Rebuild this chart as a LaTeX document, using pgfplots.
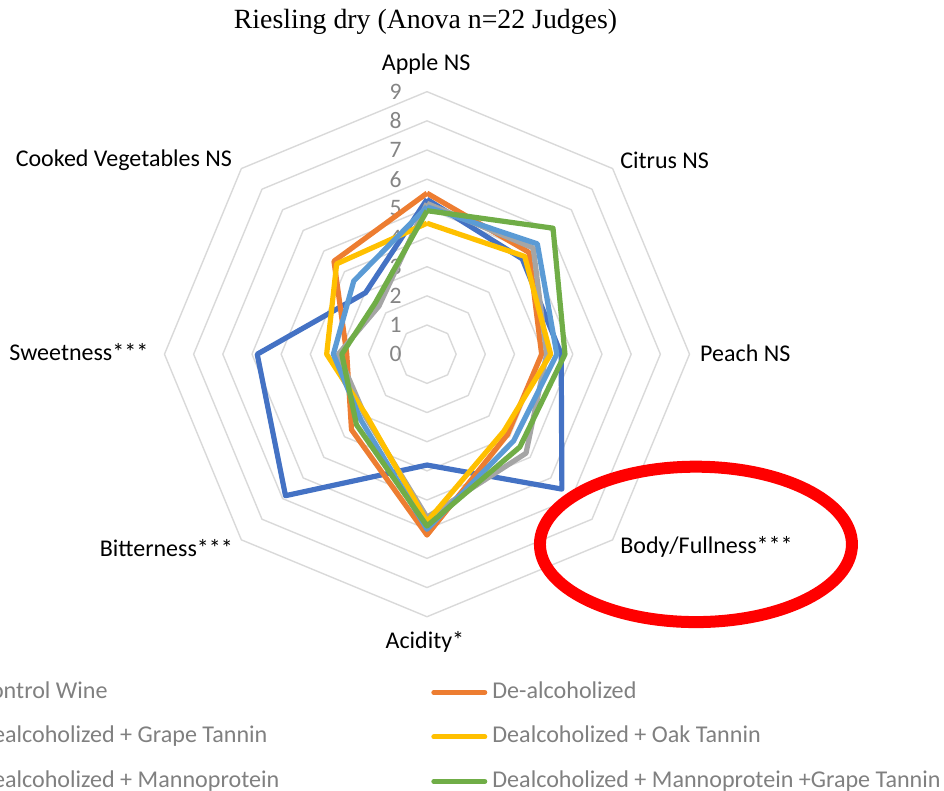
\documentclass[border=0pt]{standalone}
\usepackage{fontspec}
\setmainfont{Carlito}
\newfontfamily\titlefont{Liberation Serif}
\usepackage{pgfplots}
\pgfplotsset{compat=1.18}
\definecolor{cCtrl}{HTML}{4472C4}
\definecolor{cDeal}{HTML}{ED7D31}
\definecolor{cGrape}{HTML}{A5A5A5}
\definecolor{cOak}{HTML}{FFC000}
\definecolor{cManno}{HTML}{5B9BD5}
\definecolor{cMG}{HTML}{70AD47}
\definecolor{gridc}{HTML}{D9D9D9}
\definecolor{tickc}{HTML}{858585}
\definecolor{legc}{HTML}{808080}
\begin{document}
\begin{tikzpicture}
\useasboundingbox (0,0) rectangle (944pt,791pt);
\clip (0,0) rectangle (944pt,791pt);
\begin{axis}[
  at={(0,0)}, anchor=south west,
  x=29.17pt, y=29.17pt,
  xmin=-14.638, xmax=17.724, ymin=-14.974, ymax=12.143,
  hide axis, clip=false,
  legend columns=2,
  legend cell align=left,
  legend image code/.code={\path (0pt,0pt) (57pt,0pt); \draw[line width=5pt, line cap=round] (3pt,0pt) -- (54pt,0pt);},
  legend style={at={(axis description cs:-0.0911,0.0683)}, anchor=west,
    draw=none, fill=none, inner sep=0pt, outer sep=0pt,
    column sep=0pt, row sep=18.5pt, text=legc,
    font=\fontsize{24.1}{28}\selectfont,
    nodes={inner sep=2pt, text height=17pt, text depth=5pt}},
  every axis plot/.append style={data cs=polar, line join=round},
]
% grid octagons
\pgfplotsinvokeforeach{1,...,9}{
  \addplot[gridc, line width=1.4pt, forget plot] coordinates {(90,#1) (45,#1) (0,#1) (-45,#1) (-90,#1) (-135,#1) (180,#1) (135,#1) (90,#1)};
}
% tick labels
\pgfplotsinvokeforeach{0,...,9}{
  \node[anchor=east, text=tickc, font=\fontsize{23.6}{28}\selectfont, inner sep=0pt] at (axis cs:-0.86,#1) {#1};
}
% series: (angle, value) Apple 90, Citrus 45, Peach 0, Body -45, Acidity -90, Bitterness -135, Sweetness 180, Cooked 135
\addplot[cCtrl, line width=5.2pt] coordinates {(90,5.31) (45,4.62) (0,4.60) (-45,6.54) (-90,3.80) (-135,6.86) (180,5.82) (135,2.98) (90,5.31)};
\addlegendentry{\makebox[448pt][l]{Control Wine}}
\addplot[cDeal, line width=5.2pt] coordinates {(90,5.52) (45,4.94) (0,3.93) (-45,3.90) (-90,6.20) (-135,3.66) (180,2.75) (135,4.51) (90,5.52)};
\addlegendentry{De-alcoholized}
\addplot[cGrape, line width=5.2pt] coordinates {(90,5.17) (45,5.15) (0,4.10) (-45,4.80) (-90,5.59) (-135,3.00) (180,3.04) (135,2.33) (90,5.17)};
\addlegendentry{\makebox[448pt][l]{Dealcoholized + Grape Tannin}}
\addplot[cOak, line width=5.2pt] coordinates {(90,4.49) (45,4.74) (0,4.24) (-45,3.73) (-90,5.74) (-135,2.95) (180,3.44) (135,4.38) (90,4.49)};
\addlegendentry{Dealcoholized + Oak Tannin}
\addplot[cManno, line width=5.2pt] coordinates {(90,5.05) (45,5.35) (0,4.45) (-45,4.20) (-90,6.00) (-135,3.20) (180,3.21) (135,3.55) (90,5.05)};
\addlegendentry{\makebox[448pt][l]{Dealcoholized + Mannoprotein}}
\addplot[cMG, line width=5.2pt] coordinates {(90,4.92) (45,6.11) (0,4.73) (-45,4.50) (-90,5.89) (-135,3.42) (180,2.92) (135,2.50) (90,4.92)};
\addlegendentry{Dealcoholized + Mannoprotein +Grape Tannin}
% category labels
\begin{scope}[font=\fontsize{24}{28}\selectfont, inner sep=0pt]
\node[anchor=center] at (axis cs:-0.03,9.95) {Apple NS};
\node[anchor=west] at (axis cs:6.62,6.66) {Citrus NS};
\node[anchor=west] at (axis cs:9.36,0.04) {Peach NS};
\node[anchor=west] at (axis cs:6.62,-6.61) {Body/Fullness***};
\node[anchor=center] at (axis cs:-0.07,-9.87) {Acidity*};
\node[anchor=east] at (axis cs:-6.65,-6.64) {Bitterness***};
\node[anchor=east] at (axis cs:-9.55,0.08) {Sweetness***};
\node[anchor=east] at (axis cs:-6.68,6.66) {Cooked Vegetables NS};
\end{scope}
% title
\node[font=\titlefont\fontsize{27.8}{32}\selectfont, inner sep=0pt] at (axis cs:-0.05,11.39) {Riesling dry (Anova n=22 Judges)};
% red annotation ellipse
\draw[red, line width=12pt] (axis cs:9.22,-6.52) ellipse [x radius=156pt, y radius=77.7pt];
\end{axis}
\end{tikzpicture}
\end{document}
